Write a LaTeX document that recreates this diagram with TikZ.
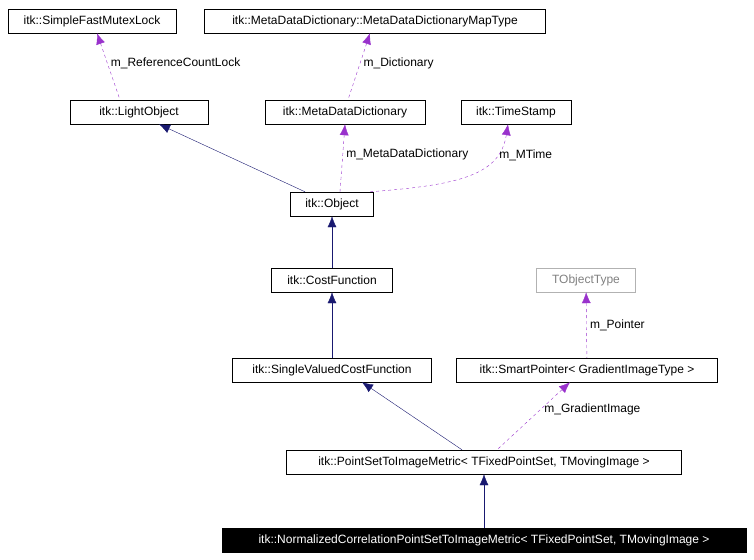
\documentclass[tikz,border=0pt]{standalone}
\usepackage{fontspec}
\setmainfont{Liberation Sans}
\usetikzlibrary{arrows.meta}
\definecolor{navyedge}{RGB}{25,25,112}
\definecolor{useedge}{RGB}{153,50,204}
\begin{document}
\begin{tikzpicture}[x = 1pt, y = -1pt, > = {Latex[length=11pt,width=9pt]},
	box/.style = {draw, inner sep = 0pt, minimum height = 24pt, font = \fontsize{12}{14}\selectfont},
	inherit/.style = {navyedge, <-},
	member/.style = {useedge, dashed, <-},
	lbl/.style = {text = black, font = \fontsize{12}{14}\selectfont}]

	% Frame
	
	\useasboundingbox (0, 0) rectangle (754, 559);
	
	% Classes
	
	\node [box, minimum width = 168pt] (mutex) at (92, 21) {itk::SimpleFastMutexLock};
	\node [box, minimum width = 341pt] (maptype) at (375, 21) {itk::MetaDataDictionary::MetaDataDictionaryMapType};
	\node [box, minimum width = 138pt] (light) at (139, 112) {itk::LightObject};
	\node [box, minimum width = 160pt] (dict) at (345, 112) {itk::MetaDataDictionary};
	\node [box, minimum width = 110pt] (stamp) at (516, 112) {itk::TimeStamp};
	\node [box, minimum width = 83pt] (object) at (332, 204) {itk::Object};
	\node [box, minimum width = 121pt] (cost) at (332, 280) {itk::CostFunction};
	\node [box, minimum width = 99pt, draw = gray!60, text = gray] (tobj) at (586, 280) {TObjectType};
	\node [box, minimum width = 199pt] (single) at (332, 370) {itk::SingleValuedCostFunction};
	\node [box, minimum width = 261pt] (smart) at (587, 370) {itk::SmartPointer< GradientImageType >};
	\node [box, minimum width = 395pt] (pset) at (484, 462) {itk::PointSetToImageMetric< TFixedPointSet, TMovingImage >};
	\node [box, minimum width = 524pt, fill = black, text = white] (norm) at (484, 540) {itk::NormalizedCorrelationPointSetToImageMetric< TFixedPointSet, TMovingImage >};
	
	% Inheritance
	
	\draw [inherit] (light.south) ++(20, 0) -- ([xshift = -27pt] object.north);
	\draw [inherit] (object) -- (cost);
	\draw [inherit] (cost) -- (single);
	\draw [inherit] ([xshift = 30pt] single.south) -- ([xshift = -22pt] pset.north);
	\draw [inherit] (pset) -- (norm);
	
	% Members
	
	\draw [member] ([xshift = 5pt] mutex.south) -- ([xshift = -19pt] light.north)
		node [lbl, pos = 0.45, right] {m\_ReferenceCountLock};
	\draw [member] ([xshift = -5pt] maptype.south) -- ([xshift = 3pt] dict.north)
		node [lbl, pos = 0.45, right] {m\_Dictionary};
	\draw [member] (dict.south) -- ([xshift = 8pt] object.north)
		node [lbl, pos = 0.45, right] {m\_MetaDataDictionary};
	\draw [member] ([xshift = -8pt] stamp.south) .. controls (500, 175) and (460, 185) .. ([xshift = 38pt] object.north)
		node [lbl, pos = 0.25, right] {m\_MTime};
	\draw [member] (tobj) -- (smart)
		node [lbl, midway, right] {m\_Pointer};
	\draw [member] ([xshift = -17pt] smart.south) -- ([xshift = 13pt] pset.north)
		node [lbl, pos = 0.4, right] {m\_GradientImage};

\end{tikzpicture}
\end{document}
